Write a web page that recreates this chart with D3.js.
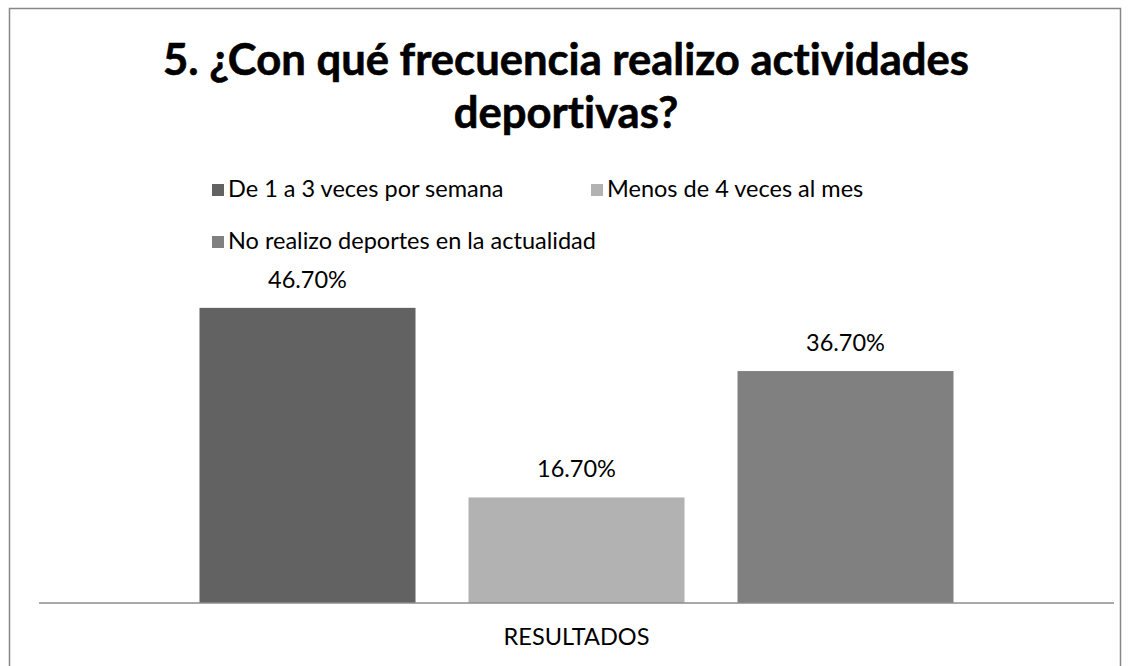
<!DOCTYPE html>
<html>
<head>
<meta charset="utf-8">
<script src="https://cdn.jsdelivr.net/npm/d3@7"></script>
<style>
  html, body { margin: 0; padding: 0; background: #fff; }
  svg { display: block; }
  text { font-family: Lato, "Open Sans", sans-serif; fill: #000; font-variant-ligatures: none; font-feature-settings: "liga" 0; }
</style>
</head>
<body>
<svg id="chart" width="1129" height="666"></svg>
<script>
// Chart data
const titleLines = ["5. ¿Con qué frecuencia realizo actividades", "deportivas?"];
const categories = ["RESULTADOS"];
const seriesNames = ["De 1 a 3 veces por semana", "Menos de 4 veces al mes", "No realizo deportes en la actualidad"];
const seriesValues = [46.7, 16.7, 36.7];
const seriesColors = ["#626262", "#b2b2b2", "#808080"];
const valueLabels = ["46.70%", "16.70%", "36.70%"];
const yMax = 50;

const svg = d3.select("#chart");
const W = 1129, H = 666;

// Outer frame
svg.append("rect")
  .attr("x", 9.5).attr("y", 8.5)
  .attr("width", 1111).attr("height", H)
  .attr("fill", "#fff").attr("stroke", "#878787").attr("stroke-width", 1.5);

// Fit a text element's size so that it spans the wanted width
function fitWidth(sel, target) {
  const node = sel.node();
  const fs = parseFloat(sel.attr("font-size"));
  const w = node.getComputedTextLength();
  sel.attr("font-size", (fs * target / w).toFixed(2));
}

// Title
const cx = 566;
const titleY = [75, 128];
const titleEls = titleLines.map((t, i) => svg.append("text")
  .attr("x", cx).attr("y", titleY[i])
  .attr("text-anchor", "middle")
  .attr("font-weight", "bold")
  .attr("font-size", 40)
  .attr("stroke", "#000").attr("stroke-width", 0.6)
  .text(t));
fitWidth(titleEls[0], 806);
titleEls[1].attr("font-size", titleEls[0].attr("font-size"));

// Plot area
const plotLeft = 39, plotRight = 1114, baseY = 603, topY = 287;

const x0 = d3.scaleBand().domain(categories).range([plotLeft, plotRight])
  .paddingInner(0.1755).paddingOuter(0.1755);
const x1 = d3.scaleBand().domain(seriesNames).range([0, x0.bandwidth()])
  .paddingInner(0.197).paddingOuter(0);
const y = d3.scaleLinear().domain([0, yMax]).range([baseY, topY]);
const color = d3.scaleOrdinal().domain(seriesNames).range(seriesColors);

const rows = seriesNames.map((s, i) => ({ name: s, value: seriesValues[i], label: valueLabels[i], cat: categories[0] }));

// Bars
const g = svg.append("g");
g.selectAll("rect.bar").data(rows).join("rect")
  .attr("class", "bar")
  .attr("x", d => x0(d.cat) + x1(d.name))
  .attr("width", x1.bandwidth())
  .attr("y", d => y(d.value))
  .attr("height", d => y(0) - y(d.value))
  .attr("fill", d => color(d.name));

// Value labels
const labels = g.selectAll("text.val").data(rows).join("text")
  .attr("class", "val")
  .attr("x", d => x0(d.cat) + x1(d.name) + x1.bandwidth() / 2)
  .attr("y", d => y(d.value) - 20)
  .attr("text-anchor", "middle")
  .attr("font-size", 20)
  .text(d => d.label);
fitWidth(d3.select(labels.nodes()[1]), 79);
const labelSize = d3.select(labels.nodes()[1]).attr("font-size");
labels.attr("font-size", labelSize);

// Category axis
const xAxis = d3.axisBottom(x0).tickSize(0).tickPadding(0);
const ax = svg.append("g").attr("transform", `translate(0,${baseY})`).call(xAxis);
ax.select(".domain").attr("stroke", "#8c8c8c").attr("stroke-width", 1.6)
  .attr("d", `M${plotLeft},0H${plotRight}`);
ax.selectAll(".tick text")
  .attr("font-family", "Lato, 'Open Sans', sans-serif")
  .attr("font-size", labelSize)
  .attr("fill", "#000")
  .attr("dy", 0)
  .attr("y", 42);

// Legend
const legendPos = [[212, 190], [591, 190], [212, 242]];
const leg = svg.append("g");
seriesNames.forEach((s, i) => {
  const [lx, ly] = legendPos[i];
  leg.append("rect")
    .attr("x", lx).attr("y", ly - 6)
    .attr("width", 12).attr("height", 12)
    .attr("fill", color(s));
  leg.append("text")
    .attr("x", lx + 16).attr("y", ly + 7)
    .attr("font-size", labelSize)
    .text(s);
});
</script>
</body>
</html>
